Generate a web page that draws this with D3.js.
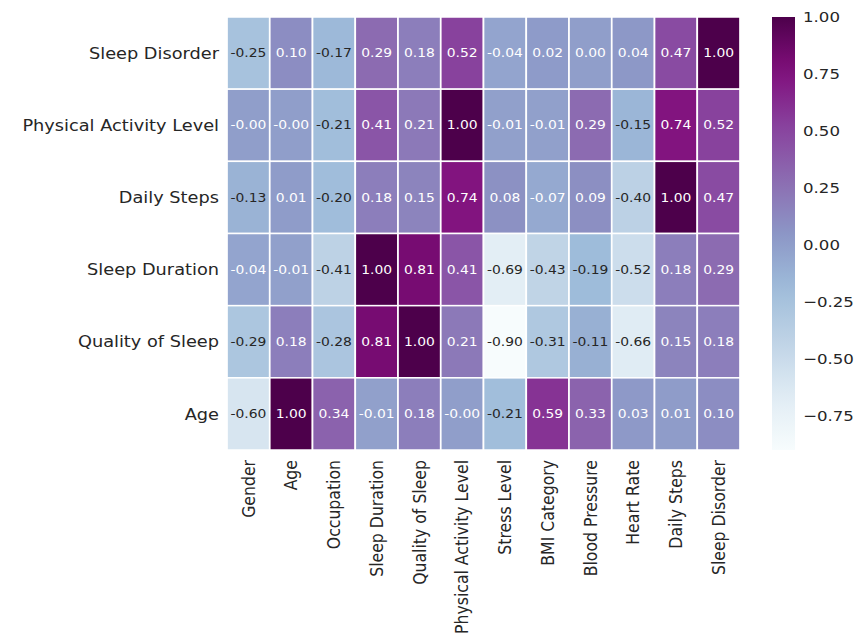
<!DOCTYPE html>
<html>
<head>
<meta charset="utf-8">
<script src="https://cdn.jsdelivr.net/npm/d3@7"></script>
<style>
  html, body { margin: 0; padding: 0; background: #ffffff; }
  svg { display: block; }
  text { font-family: "DejaVu Sans", sans-serif; }
</style>
</head>
<body>
<svg id="chart" width="856" height="638"></svg>
<script>
// Correlation matrix: rows (top to bottom) against columns (left to right)
const rowLabels = ["Sleep Disorder", "Physical Activity Level", "Daily Steps",
                   "Sleep Duration", "Quality of Sleep", "Age"];
const colLabels = ["Gender", "Age", "Occupation", "Sleep Duration", "Quality of Sleep",
                   "Physical Activity Level", "Stress Level", "BMI Category",
                   "Blood Pressure", "Heart Rate", "Daily Steps", "Sleep Disorder"];

const sleepDisorderRow   = [-0.25, 0.10, -0.17, 0.29, 0.18, 0.52, -0.04, 0.02, 0.00, 0.04, 0.47, 1.00];
const physActivityRow    = [-0.00, -0.00, -0.21, 0.41, 0.21, 1.00, -0.01, -0.01, 0.29, -0.15, 0.74, 0.52];
const dailyStepsRow      = [-0.13, 0.01, -0.20, 0.18, 0.15, 0.74, 0.08, -0.07, 0.09, -0.40, 1.00, 0.47];
const sleepDurationRow   = [-0.04, -0.01, -0.41, 1.00, 0.81, 0.41, -0.69, -0.43, -0.19, -0.52, 0.18, 0.29];
const qualitySleepRow    = [-0.29, 0.18, -0.28, 0.81, 1.00, 0.21, -0.90, -0.31, -0.11, -0.66, 0.15, 0.18];
const ageRow             = [-0.60, 1.00, 0.34, -0.01, 0.18, -0.00, -0.21, 0.59, 0.33, 0.03, 0.01, 0.10];

const matrix = [sleepDisorderRow, physActivityRow, dailyStepsRow,
                sleepDurationRow, qualitySleepRow, ageRow];

const colorbarTicks = [1.00, 0.75, 0.50, 0.25, 0.00, -0.25, -0.50, -0.75];

// BuPu colour ramp (ColorBrewer, 9 stops) interpolated linearly
const bupu = ["#f7fcfd", "#e0ecf4", "#bfd3e6", "#9ebcda", "#8c96c6",
              "#8c6bb1", "#88419d", "#810f7c", "#4d004b"];

const vmin = d3.min(matrix.flat());
const vmax = d3.max(matrix.flat());
const color = d3.scaleLinear()
  .domain(bupu.map((_, i) => vmin + (vmax - vmin) * i / (bupu.length - 1)))
  .range(bupu)
  .interpolate(d3.interpolateRgb)
  .clamp(true);

// Horizontal stretch applied to the whole drawing
const sx = 1.13;
const plot = { left: 227, right: 740, top: 17, bottom: 450 };
const cbar = { left: 772, right: 795 };
const textColor = "#262626";

const svg = d3.select("#chart");
const g = svg.append("g").attr("transform", `scale(${sx},1)`);

const x = d3.scaleBand().domain(colLabels.map((_, i) => i))
  .range([plot.left / sx, plot.right / sx]);
const y = d3.scaleBand().domain(rowLabels.map((_, i) => i))
  .range([plot.top, plot.bottom]);

function luminance(c) {
  const rgb = d3.rgb(c);
  const lin = v => { v /= 255; return v <= 0.03928 ? v / 12.92 : Math.pow((v + 0.055) / 1.055, 2.4); };
  return 0.2126 * lin(rgb.r) + 0.7152 * lin(rgb.g) + 0.0722 * lin(rgb.b);
}
const fmt = v => ((v < 0 || Object.is(v, -0)) ? "-" : "") + Math.abs(v).toFixed(2);

const cells = [];
matrix.forEach((row, r) => row.forEach((v, c) => cells.push({ r, c, v })));

// Heatmap cells
g.append("g").selectAll("rect").data(cells).join("rect")
  .attr("x", d => x(d.c))
  .attr("y", d => y(d.r))
  .attr("width", x.bandwidth())
  .attr("height", y.bandwidth())
  .attr("fill", d => color(d.v))
  .attr("stroke", "#ffffff")
  .attr("stroke-width", 1.5);

// Cell annotations
g.append("g").selectAll("text").data(cells).join("text")
  .attr("x", d => x(d.c) + x.bandwidth() / 2)
  .attr("y", d => y(d.r) + y.bandwidth() / 2)
  .attr("text-anchor", "middle")
  .attr("dominant-baseline", "central")
  .attr("font-size", 12.3)
  .attr("fill", d => luminance(color(d.v)) > 0.408 ? textColor : "#ffffff")
  .text(d => fmt(d.v));

// Row labels
g.append("g").selectAll("text").data(rowLabels).join("text")
  .attr("x", 219 / sx)
  .attr("y", (d, i) => y(i) + y.bandwidth() / 2)
  .attr("text-anchor", "end")
  .attr("dominant-baseline", "central")
  .attr("font-size", 15.7)
  .attr("fill", textColor)
  .text(d => d);

// Column labels, rotated
g.append("g").selectAll("text").data(colLabels).join("text")
  .attr("transform", (d, i) => `translate(${x(i) + x.bandwidth() / 2},${plot.bottom + 10}) rotate(-90)`)
  .attr("text-anchor", "end")
  .attr("dominant-baseline", "central")
  .attr("font-size", 15.7)
  .attr("fill", textColor)
  .text(d => d);

// Colour bar
const cy = d3.scaleLinear().domain([vmin, vmax]).range([plot.bottom, plot.top]);
const defs = svg.append("defs");
const grad = defs.append("linearGradient").attr("id", "cbarGrad")
  .attr("x1", 0).attr("y1", 1).attr("x2", 0).attr("y2", 0);
d3.range(0, 1.0001, 0.05).forEach(t => {
  grad.append("stop").attr("offset", t)
    .attr("stop-color", color(vmin + (vmax - vmin) * t));
});
g.append("rect")
  .attr("x", cbar.left / sx)
  .attr("y", plot.top)
  .attr("width", (cbar.right - cbar.left) / sx)
  .attr("height", plot.bottom - plot.top)
  .attr("fill", "url(#cbarGrad)");

const cbarAxis = d3.axisRight(cy).tickValues(colorbarTicks)
  .tickSize(0).tickPadding(8 / sx)
  .tickFormat(v => (v < 0 ? "\u2212" : "") + Math.abs(v).toFixed(2));
const ax = g.append("g")
  .attr("transform", `translate(${cbar.right / sx},0)`)
  .call(cbarAxis);
ax.select(".domain").remove();
ax.selectAll("text")
  .attr("font-family", "DejaVu Sans, sans-serif")
  .attr("font-size", 14.7)
  .attr("fill", textColor);
</script>
</body>
</html>
